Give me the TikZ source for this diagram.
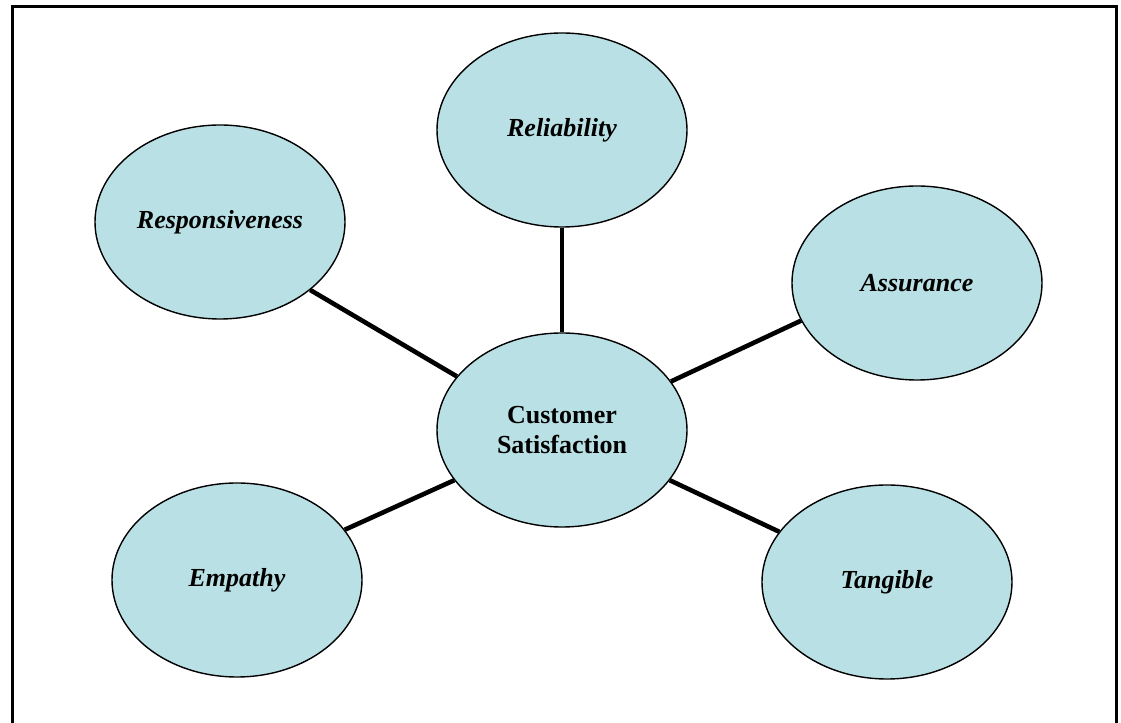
\documentclass[tikz,border=0pt]{standalone}
\usepackage{fontspec}
\setmainfont{Liberation Serif}
\usetikzlibrary{shapes.geometric}
\definecolor{bubble}{RGB}{185,224,228}
\tikzset{
	dim/.style = {ellipse, draw, line width = 0.7pt, fill = bubble, minimum width = 125pt, minimum height = 97pt, inner sep = 0pt, font = \fontsize{13}{15}\selectfont\bfseries\itshape},
	link/.style = {line width = 2.3pt}
}

\begin{document}
\begin{tikzpicture}[x = 0.5pt, y = 0.5pt]
	\useasboundingbox (0,0) rectangle (1121,723);
	\draw[line width = 1.5pt] (12,-10) |- (1116,716) -- (1116,-10);
	\node[dim] (rel) at (562,593) {Reliability};
	\node[dim] (resp) at (220,501) {Responsiveness};
	\node[dim] (assur) at (917,440) {Assurance};
	\node[dim, font = \fontsize{13}{15}\selectfont\bfseries, align = center] (cs) at (562,293) {Customer\\Satisfaction};
	\node[dim] (emp) at (237,143) {Empathy};
	\node[dim] (tang) at (887,141) {Tangible};
	\foreach \a/\b in {rel.south/cs.north, resp.-37/cs.153, assur.198/cs.24, emp.25/cs.205, tang.155/cs.-25}{
		\draw[link] (\a) -- (\b);
	}
\end{tikzpicture}
\end{document}
